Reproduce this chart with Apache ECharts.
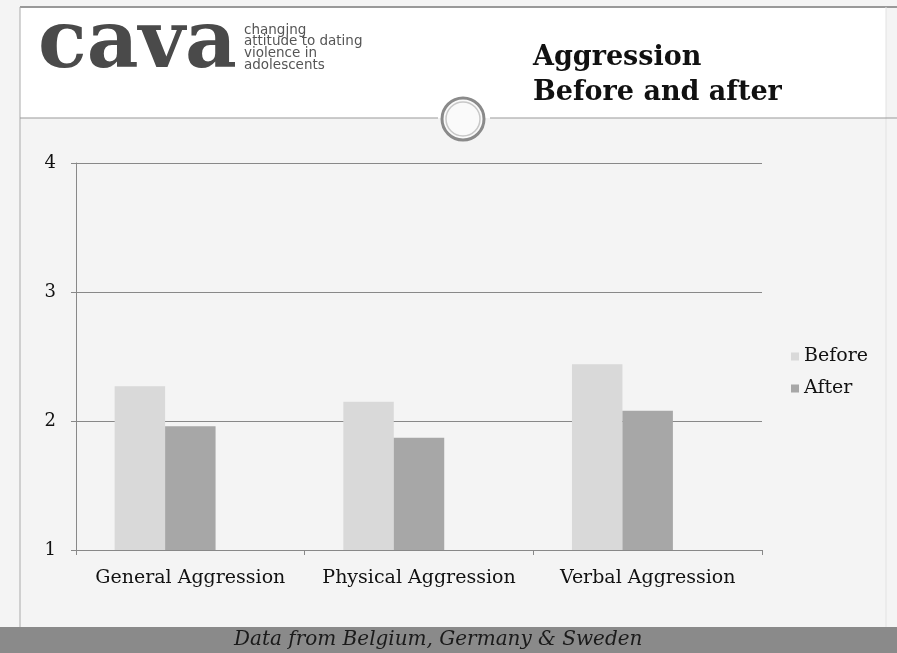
<!DOCTYPE html>
<html>
<head>
<meta charset="utf-8">
<script src="https://cdn.jsdelivr.net/npm/echarts@6/dist/echarts.min.js"></script>
<style>
  html, body { margin: 0; padding: 0; background: #f4f4f4; }
  #chart { width: 897px; height: 653px; }
</style>
</head>
<body>
<div id="chart"></div>
<script>
// data
const categories = ['General Aggression', 'Physical Aggression', 'Verbal Aggression'];
const before = [2.27, 2.15, 2.44];
const after = [1.96, 1.87, 2.08];
// the original Excel chart reserves room for a third (empty) series in every cluster
const emptySeries = [null, null, null];
const yTicks = [1, 2, 3, 4];

const serif = 'DejaVu Serif';
const myChart = echarts.init(document.getElementById('chart'));

const option = {
  backgroundColor: '#f4f4f4',
  animation: false,
  color: ['#d9d9d9', '#a7a7a7', 'transparent'],
  grid: {
    left: 76,
    right: 135,
    top: 163,
    bottom: 103,
    containLabel: false
  },
  legend: {
    data: ['Before', 'After'],
    orient: 'vertical',
    left: 786,
    top: 342,
    itemWidth: 8,
    itemHeight: 8,
    itemGap: 13,
    icon: 'rect',
    textStyle: { fontFamily: serif, fontSize: 19, color: '#111' }
  },
  xAxis: {
    type: 'category',
    data: categories,
    axisLine: { lineStyle: { color: '#888', width: 1 } },
    axisTick: { show: true, interval: 0, length: 5, lineStyle: { color: '#888' } },
    axisLabel: { interval: 0, fontFamily: serif, fontSize: 19, color: '#111', margin: 19 }
  },
  yAxis: {
    type: 'value',
    min: yTicks[0],
    max: yTicks[yTicks.length - 1],
    interval: 1,
    axisLine: { show: true, lineStyle: { color: '#888' } },
    axisTick: { show: true, length: 5, lineStyle: { color: '#888' } },
    axisLabel: { fontFamily: serif, fontSize: 18, color: '#111', margin: 20 },
    splitLine: { lineStyle: { color: '#888', width: 1 } }
  },
  series: [
    {
      name: 'Before',
      type: 'bar',
      data: before,
      barGap: '0%',
      barCategoryGap: '33.8%',
      itemStyle: { color: '#d9d9d9' }
    },
    {
      name: 'After',
      type: 'bar',
      data: after,
      itemStyle: { color: '#a7a7a7' }
    },
    {
      name: 'spacer',
      type: 'bar',
      data: emptySeries,
      silent: true
    }
  ],
  graphic: [
    // slide header (white band with frame)
    { type: 'rect', z: -10, shape: { x: 20, y: 7, width: 866, height: 111 },
      style: { fill: '#ffffff', stroke: 'none' } },
    { type: 'line', shape: { x1: 20, y1: 7, x2: 897, y2: 7 }, style: { stroke: '#999', lineWidth: 2 } },
    { type: 'line', shape: { x1: 20, y1: 7, x2: 20, y2: 653 }, style: { stroke: '#aaa', lineWidth: 1 } },
    { type: 'line', shape: { x1: 886, y1: 7, x2: 886, y2: 627 }, style: { stroke: '#e2e2e2', lineWidth: 1 } },
    { type: 'line', shape: { x1: 20, y1: 118, x2: 438, y2: 118 }, style: { stroke: '#999', lineWidth: 1 } },
    { type: 'line', shape: { x1: 490, y1: 118, x2: 897, y2: 118 }, style: { stroke: '#999', lineWidth: 1 } },
    { type: 'circle', shape: { cx: 463, cy: 119, r: 21 }, style: { fill: '#fafafa', stroke: '#8a8a8a', lineWidth: 3 } },
    { type: 'circle', shape: { cx: 463, cy: 119, r: 17 }, style: { fill: 'none', stroke: '#c8c8c8', lineWidth: 1.5 } },
    // logo
    { type: 'text', left: 38, top: 6,
      style: { text: 'cava', fontFamily: serif, fontSize: 80, fontWeight: 'bold', fill: '#4a4a4a' } },
    { type: 'text', left: 244, top: 23,
      style: { text: 'changing\nattitude to dating\nviolence in\nadolescents', fontFamily: 'DejaVu Sans',
        fontSize: 13.5, lineHeight: 11.7, fill: '#555' } },
    // title
    { type: 'text', left: 533, top: 40,
      style: { text: 'Aggression\nBefore and after', fontFamily: serif, fontSize: 27, fontWeight: 'bold',
        lineHeight: 35, fill: '#111' } },
    // footer band
    { type: 'rect', shape: { x: 0, y: 627, width: 897, height: 26 }, style: { fill: '#8a8a8a' } },
    { type: 'text', left: 234, top: 630,
      style: { text: 'Data from Belgium, Germany & Sweden', fontFamily: serif, fontStyle: 'italic',
        fontSize: 20, fill: '#1a1a1a' } }
  ]
};

myChart.setOption(option);
</script>
</body>
</html>
